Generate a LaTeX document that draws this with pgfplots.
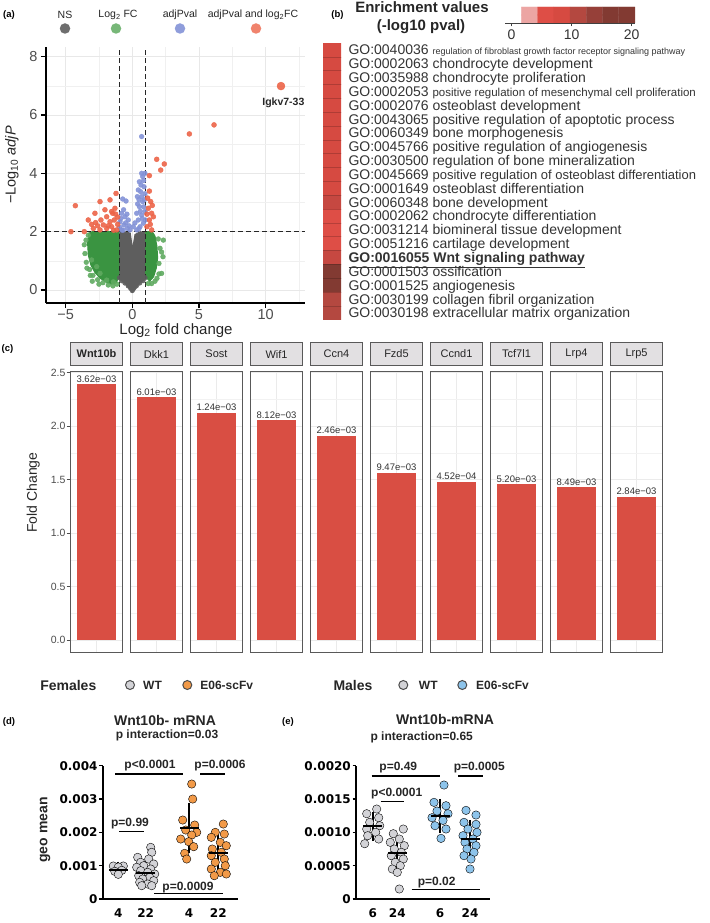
\documentclass[border=0pt]{standalone}
\usepackage{fontspec}
\setmainfont{Liberation Sans}
\newfontfamily\dejavu{DejaVu Sans}
\usepackage{pgfplots}
\usepackage{pgfplotstable}
\pgfplotsset{compat=1.18}

\definecolor{nsgray}{HTML}{5E5E5E}
\definecolor{fcgreen}{HTML}{3A9441}
\definecolor{fclight}{HTML}{5FAA60}
\definecolor{pblue}{HTML}{8392D7}
\definecolor{bothred}{HTML}{EC6448}
\definecolor{barred}{HTML}{D94E43}
\definecolor{framegray}{HTML}{595959}
\definecolor{stripgray}{HTML}{E2E0E2}
\definecolor{txtgray}{HTML}{4D4D4D}
\definecolor{wtgray}{HTML}{D3D3D7}
\definecolor{eorange}{HTML}{F29A48}
\definecolor{eblue}{HTML}{8DC4EB}

\newcommand{\fs}[1]{\fontsize{#1}{#1}\selectfont}

\pgfplotsset{
  colormap={enrich}{rgb255=(255,255,255) rgb255=(236,165,163) rgb255=(222,78,70)
    rgb255=(214,74,65) rgb255=(198,72,65) rgb255=(180,72,64) rgb255=(150,64,57)
    rgb255=(130,58,50) rgb255=(130,58,50)},
  facet/.style={anchor=south west, scale only axis, width=51.6pt, height=281pt,
    ymin=-0.119, ymax=2.507,
    ytick={0,0.5,1,1.5,2,2.5}, minor ytick={0.25,0.75,1.25,1.75,2.25},
    yticklabels={}, xticklabels={},
    grid=both, major grid style={black!8, line width=0.7pt}, minor grid style={black!5, line width=0.4pt},
    tick align=outside, major tick length=4pt, minor tick length=0pt,
    xtick style={draw=none}, ytick style={draw=none},
    axis line style={framegray, line width=0.9pt},
    title style={at={(0.5,1)}, anchor=south, draw=framegray, line width=0.9pt, fill=stripgray,
      minimum width=51.6pt, minimum height=22.4pt, inner sep=0pt, text=black!85, font=\fs{11}},
  },
  fcbar/.style={ybar, bar width=0.9, fill=barred, draw=none,
    nodes near coords, point meta=explicit symbolic,
    every node near coord/.append style={anchor=south, font=\fs{9.5}, text=black!80, inner sep=1.5pt}},
  prism/.style={anchor=south west, scale only axis, width=135pt, height=133.3pt,
    ymin=0, clip=false,
    axis lines*=left, axis line style={-, black, line width=1.6pt},
    xtick style={draw=none}, ytick style={black, line width=1.4pt},
    tick align=outside, major tick length=3.5pt,
    tick label style={font=\dejavu\bfseries\fs{12}},
    yticklabel style={inner sep=1.5pt},
    xticklabel style={yshift=-3pt},
    scaled y ticks=false},
  dots/.style={only marks, mark=*, mark size=4.2pt, mark options={line width=0.7pt, draw=black!65}},
  msd/.style={only marks, mark=-, mark size=9.5pt, mark options={line width=2pt, black},
    error bars/.cd, y dir=both, y explicit, error mark=-,
    error mark options={mark size=3.5pt, line width=2pt, black},
    error bar style={line width=2pt, black}},
  volc/.style={only marks, mark=*, mark size=2.4pt, color=#1,
    mark options={fill opacity=0.9, draw opacity=0.9}},
}

\pgfplotstableread{
pos fc lab
1 2.390 3.62e−03
2 2.268 6.01e−03
3 2.124 1.24e−03
4 2.056 8.12e−03
5 1.909 2.46e−03
6 1.564 9.47e−03
7 1.480 4.52e−04
8 1.455 5.20e−03
9 1.427 8.49e−03
10 1.339 2.84e−03
}\fcdata

\begin{document}
\begin{tikzpicture}[x=1pt,y=1pt]
\path[use as bounding box] (0,0) rectangle (709,-923);

% ===== (a) volcano plot
\node[font=\bfseries\fs{9.5}] at (9,-15) {(a)};
\node[font=\fs{10.5}, text=black!85] at (65,-15) {NS};
\node[font=\fs{10.5}, text=black!85] at (118,-15) {Log\textsubscript{2} FC};
\node[font=\fs{10.5}, text=black!85] at (180,-15) {adjPval};
\node[font=\fs{10.5}, text=black!85] at (253,-15) {adjPval and log\textsubscript{2}FC};
\node[circle, fill=nsgray!90, minimum size=10.5pt, inner sep=0pt] at (65,-28.5) {};
\node[circle, fill=fclight!85, minimum size=10.5pt, inner sep=0pt] at (116,-28.5) {};
\node[circle, fill=pblue!90, minimum size=10.5pt, inner sep=0pt] at (180,-28.5) {};
\node[circle, fill=bothred!80, minimum size=10.5pt, inner sep=0pt] at (256,-28.5) {};

\begin{axis}[at={(46pt,-303pt)}, anchor=south west, scale only axis,
  width=259pt, height=256pt,
  xmin=-6.47, xmax=12.95, ymin=-0.446, ymax=8.33,
  axis lines*=left, axis line style={-, black, line width=1.4pt},
  xtick={-5,0,5,10}, xticklabels={−5,0,5,10},
  ytick={0,2,4,6,8}, yticklabels={0,2,4,6,8},
  minor xtick={-2.5,2.5,7.5,12.5}, minor ytick={1,3,5,7},
  grid=both, major grid style={black!9, line width=0.9pt}, minor grid style={black!6, line width=0.5pt},
  tick align=outside, major tick length=5pt, minor tick length=0pt,
  tick style={black, line width=1.1pt},
  tick label style={font=\fs{14.5}, text=txtgray},
  xticklabel style={inner sep=1pt},
  clip=false]
% dense non-significant cloud
\addplot[fill=nsgray, draw=nsgray, line width=1pt] coordinates {
(0,-0.08) (0.3,0.1) (0.6,0.25) (0.9,0.35) (1.02,0.5) (1.02,1.95) (0.6,2.0) (0.2,1.9)
(0.02,1.4) (-0.15,1.95) (-0.6,2.0) (-1.02,1.95) (-1.02,0.5) (-0.9,0.35) (-0.6,0.25)
(-0.3,0.1) (0,-0.08)};
% dense fold-change clouds
\addplot[fill=fcgreen, draw=fcgreen, line width=1pt] coordinates {
(-1.0,0.45) (-1.2,0.25) (-1.6,0.2) (-2.0,0.28) (-2.4,0.4) (-2.8,0.6) (-3.1,0.85)
(-3.3,1.2) (-3.35,1.6) (-3.25,1.95) (-3.0,2.0) (-1.0,2.0) (-1.0,0.45)};
\addplot[fill=fcgreen, draw=fcgreen, line width=1pt] coordinates {
(1.0,0.45) (1.3,0.3) (1.6,0.45) (1.8,0.75) (1.9,1.1) (1.85,1.5) (1.7,1.85) (1.5,2.0)
(1.0,2.0) (1.0,0.45)};
\addplot[volc=nsgray] coordinates {
(0,-0.02) (0.12,0.06) (-0.12,0.06) (0.3,0.14) (-0.3,0.14) (0.55,0.24) (-0.55,0.24)
(0.8,0.32) (-0.8,0.32) (0.95,0.42) (-0.95,0.42)};
\addplot[volc=fclight] coordinates {
(-3.47,1.71) (-3.3,1.88) (-3.05,1.03) (-2.67,0.8) (-2.42,0.57) (-1.92,0.34) (-1.42,0.28)
(-3.55,1.25) (-3.45,0.95) (-3.2,0.7) (-2.95,0.5) (-2.6,0.35) (-2.2,0.25) (-1.8,0.17)
(-1.45,0.14) (-1.15,0.2) (-3.6,1.55) (-3.4,0.75) (-3.0,0.3) (-2.5,0.2) (-3.15,0.5)
(2.33,1.71) (2.08,1.43) (2.3,1.14) (2.2,0.57) (2.0,0.91) (2.0,0.55) (1.95,1.75)
(1.7,0.3) (1.45,0.22) (1.85,0.4) (2.2,1.3) (1.2,0.22)};
\addplot[volc=pblue] coordinates {
(-0.72,3.12) (-0.47,3.05) (-0.8,2.63) (-0.55,2.51) (-0.3,2.4) (-0.92,2.34) (-0.62,2.23)
(-0.37,2.11) (-0.8,2.06) (-0.17,2.06) (-0.95,2.15) (-0.65,2.75) (-0.5,2.3) (-0.85,2.45)
(-0.4,2.6) (-0.7,2.05) (-0.25,2.2)
(0.33,2.06) (0.58,2.17) (0.83,2.29) (0.45,2.4) (0.7,2.57) (0.95,2.69) (0.53,2.86)
(0.78,3.03) (0.38,3.2) (0.63,3.37) (0.88,3.54) (0.53,3.71) (0.78,3.89) (0.95,4.0)
(0.7,4.0) (0.45,3.43) (0.7,3.2) (0.9,3.09) (0.33,2.63) (0.98,2.4) (0.08,2.17) (0.5,2.1)
(0.75,2.45) (0.6,2.7) (0.85,2.85) (0.65,3.6) (0.85,3.75) (0.4,2.95) (0.95,3.3) (0.5,3.1)
(0.2,2.3) (0.7,5.26)};
\addplot[volc=bothred, mark size=2.5pt] coordinates {
(-4.6,2.0) (-4.27,2.89) (-3.6,2.0) (-3.3,2.4) (-2.42,3.03) (-1.67,3.09) (-1.22,3.31)
(-2.8,2.63) (-2.75,2.31) (-2.35,2.4) (-1.92,2.51) (-1.47,2.63) (-1.3,2.8) (-1.35,2.4)
(-1.55,2.17) (-1.92,2.11) (-2.42,2.06) (-2.92,2.11) (-1.17,2.06) (-1.67,2.34) (-2.17,2.23)
(-1.55,2.69) (-1.1,2.25) (-1.25,2.6) (-2.05,2.75) (-1.8,2.2) (-2.6,2.2) (-3.05,2.25)
(-1.4,2.05) (-1.1,2.5)
(1.28,3.92) (1.28,3.39) (1.38,3.03) (1.2,2.8) (1.45,2.63) (1.28,2.4) (1.1,2.17) (1.45,2.06)
(1.58,2.51) (1.15,3.15) (1.35,2.25) (1.1,2.6) (1.5,2.9) (1.83,4.48) (2.4,4.32) (2.13,4.11)
(4.28,5.35) (6.13,5.66)};
\addplot[volc=bothred, mark size=4pt] coordinates {(11.15,6.99)};
\draw[black!85, line width=0.8pt, dash pattern=on 5pt off 3pt] (axis cs:-1,-0.446) -- (axis cs:-1,8.33);
\draw[black!85, line width=0.8pt, dash pattern=on 5pt off 3pt] (axis cs:1,-0.446) -- (axis cs:1,8.33);
\draw[black!85, line width=0.8pt, dash pattern=on 5pt off 3pt] (axis cs:-6.47,2) -- (axis cs:12.95,2);
\node[font=\bfseries\fs{10.5}, text=black!85] at (axis cs:11.33,6.43) {Igkv7-33};
\end{axis}
\node[rotate=90, font=\fs{14.5}, text=black!85] at (12,-165) {−Log\textsubscript{10} \textit{adjP}};
\node[anchor=base, inner sep=0pt, font=\fs{15}, text=black!85] at (176,-334.5) {Log\textsubscript{2} fold change};

% ===== (b) enrichment heatmap
\node[font=\bfseries\fs{9.5}] at (337.5,-15) {(b)};
\node[font=\bfseries\fs{15}, text=black!85] at (422,-7.5) {Enrichment values};
\node[font=\bfseries\fs{15}, text=black!85] at (421,-27) {(-log10 pval)};

\begin{axis}[at={(505pt,-23pt)}, anchor=south west, scale only axis, width=130pt, height=16pt,
  xmin=-1.1, xmax=20.55, ymin=0, ymax=1,
  axis x line*=bottom, axis y line=none,
  axis line style={-, black!75, line width=0.8pt},
  xtick={0,10,20}, xticklabels={0,10,20}, tick align=center, major tick length=7pt,
  xtick style={black!75, line width=0.8pt},
  xticklabel style={font=\fs{14}, text=black!80},
  colormap name=enrich, colormap access=piecewise constant,
  point meta min=-1.1, point meta max=20.55]
\addplot[matrix plot*, mesh/cols=8, point meta=explicit] coordinates {
(0.253,0.25) [0.253] (2.959,0.25) [2.959] (5.665,0.25) [5.665] (8.371,0.25) [8.371]
(11.077,0.25) [11.077] (13.783,0.25) [13.783] (16.489,0.25) [16.489] (19.195,0.25) [19.195]
(0.253,0.75) [0.253] (2.959,0.75) [2.959] (5.665,0.75) [5.665] (8.371,0.75) [8.371]
(11.077,0.75) [11.077] (13.783,0.75) [13.783] (16.489,0.75) [16.489] (19.195,0.75) [19.195]};
\end{axis}

\begin{axis}[at={(323pt,-319.6pt)}, anchor=south west, scale only axis, width=18pt, height=276.6pt,
  xmin=-0.5, xmax=1.5, ymin=0.5, ymax=20.5, y dir=reverse,
  axis line style={draw=none}, xtick=\empty,
  ytick={1.5,2.5,...,19.5}, yticklabels={}, major tick length=0pt,
  ymajorgrids, grid style={black, opacity=0.18, line width=0.5pt}, axis on top,
  colormap name=enrich, colormap access=piecewise constant,
  point meta min=-1.1, point meta max=20.55]
\addplot[matrix plot*, mesh/cols=2, point meta=explicit] coordinates {
(0,1) [8] (1,1) [8]
(0,2) [8] (1,2) [8]
(0,3) [8] (1,3) [8]
(0,4) [8] (1,4) [8]
(0,5) [8] (1,5) [8]
(0,6) [8] (1,6) [8]
(0,7) [8] (1,7) [8]
(0,8) [8] (1,8) [8]
(0,9) [8] (1,9) [8]
(0,10) [8] (1,10) [8]
(0,11) [8] (1,11) [8]
(0,12) [10.5] (1,12) [10.5]
(0,13) [6] (1,13) [6]
(0,14) [6] (1,14) [6]
(0,15) [6] (1,15) [6]
(0,16) [10] (1,16) [10]
(0,17) [16.5] (1,17) [16.5]
(0,18) [16.5] (1,18) [16.5]
(0,19) [11] (1,19) [11]
(0,20) [13] (1,20) [13]};
\end{axis}

\begin{scope}[every node/.style={anchor=base west, text=black!80, font=\fs{14}, inner sep=0pt}]
\node at (348.3,-54.9)  {GO:0040036 {\fs{9}regulation of fibroblast growth factor receptor signaling pathway}};
\node at (348.3,-68.7)  {GO:0002063 chondrocyte development};
\node at (348.3,-82.6)  {GO:0035988 chondrocyte proliferation};
\node at (348.3,-96.4)  {GO:0002053 {\fs{11.5}positive regulation of mesenchymal cell proliferation}};
\node at (348.3,-110.2) {GO:0002076 osteoblast development};
\node at (348.3,-124.1) {GO:0043065 positive regulation of apoptotic process};
\node at (348.3,-137.9) {GO:0060349 bone morphogenesis};
\node at (348.3,-151.7) {GO:0045766 positive regulation of angiogenesis};
\node at (348.3,-165.6) {GO:0030500 regulation of bone mineralization};
\node at (348.3,-179.4) {GO:0045669 {\fs{13}positive regulation of osteoblast differentiation}};
\node at (348.3,-193.3) {GO:0001649 osteoblast differentiation};
\node at (348.3,-207.1) {GO:0060348 bone development};
\node at (348.3,-220.9) {GO:0002062 chondrocyte differentiation};
\node at (348.3,-234.8) {GO:0031214 biomineral tissue development};
\node at (348.3,-248.6) {GO:0051216 cartilage development};
\node at (348.3,-262.4) {\bfseries\underline{GO:0016055 Wnt signaling pathway}};
\node at (348.3,-276.3) {GO:0001503 ossification};
\node at (348.3,-290.1) {GO:0001525 angiogenesis};
\node at (348.3,-304.0) {GO:0030199 collagen fibril organization};
\node at (348.3,-317.8) {GO:0030198 extracellular matrix organization};
\end{scope}

% ===== (c) fold change facets
\node[font=\bfseries\fs{9.5}] at (7.5,-349.3) {(c)};
\node[rotate=90, font=\fs{14}, text=black!85] at (33.3,-492.5) {Fold Change};

\begin{axis}[facet, at={(70.7pt,-652.7pt)}, xmin=0.4, xmax=1.6, xtick={1},
  title={\bfseries Wnt10b},
  ytick style={draw=txtgray, line width=0.8pt}, ytick pos=left,
  yticklabels={0.0,0.5,1.0,1.5,2.0,2.5},
  yticklabel style={font=\fs{10.5}, text=txtgray, inner sep=1pt}]
\addplot[fcbar, restrict x to domain=0.5:1.5] table[x=pos, y=fc, meta=lab] {\fcdata};
\end{axis}

\foreach \i/\g in {2/Dkk1,3/Sost,4/Wif1,5/Ccn4,6/Fzd5,7/Ccnd1,8/Tcf7l1,9/Lrp4,10/Lrp5}{
  \pgfmathsetmacro\xl{10.7+60*\i}
  \pgfmathsetmacro\xa{\i-0.6}
  \pgfmathsetmacro\xb{\i+0.6}
  \pgfmathsetmacro\da{\i-0.5}
  \pgfmathsetmacro\db{\i+0.5}
  \begin{axis}[facet, at={(\xl pt,-652.7pt)}, xmin=\xa, xmax=\xb, xtick={\i}, title={\g}]
  \addplot[fcbar, restrict x to domain=\da:\db] table[x=pos, y=fc, meta=lab] {\fcdata};
  \end{axis}
}

% ===== legends for (d) and (e)
\node[font=\bfseries\fs{14}, text=black!85] at (68.3,-685) {Females};
\node[circle, draw=black!70, line width=1pt, fill=wtgray, minimum size=9pt, inner sep=0pt] at (130,-685) {};
\node[font=\bfseries\fs{12}, text=black!85] at (152.5,-685) {WT};
\node[circle, draw=black!70, line width=1pt, fill=eorange, minimum size=9pt, inner sep=0pt] at (187.3,-685) {};
\node[font=\bfseries\fs{12}, text=black!85] at (226.7,-685) {E06-scFv};
\node[font=\bfseries\fs{14}, text=black!85] at (353,-685) {Males};
\node[circle, draw=black!70, line width=1pt, fill=wtgray, minimum size=9pt, inner sep=0pt] at (403.3,-685) {};
\node[font=\bfseries\fs{12}, text=black!85] at (428.3,-685) {WT};
\node[circle, draw=black!70, line width=1pt, fill=eblue, minimum size=9pt, inner sep=0pt] at (462.3,-685) {};
\node[font=\bfseries\fs{12}, text=black!85] at (502.5,-685) {E06-scFv};

% ===== (d) females
\node[font=\bfseries\fs{9.5}] at (9,-722) {(d)};
\node[font=\bfseries\fs{14}, text=black!85] at (165,-720) {Wnt10b- mRNA};
\node[font=\bfseries\fs{12}, text=black!85] at (167,-735.5) {p interaction=0.03};
\begin{axis}[prism, at={(102.7pt,-899pt)}, width=135.6pt,
  xmin=0, xmax=135.6, ymax=0.004,
  xtick={15.6,43,86.3,115.6}, xticklabels={4,22,4,22},
  ytick={0,0.001,0.002,0.003,0.004}, yticklabels={0,0.001,0.002,0.003,0.004}]
\addplot[dots, mark options={fill=wtgray}] coordinates {
(10.6,0.00099) (20.6,0.00099) (15.6,0.00096) (12.1,0.00083) (19.1,0.00086) (15.6,0.00074)};
\addplot[dots, mark options={fill=wtgray}] coordinates {
(48,0.00155) (49,0.00140) (35,0.00125) (46,0.00120) (38,0.00110) (51,0.00105) (41,0.00100)
(34,0.00095) (48,0.00090) (38,0.00085) (45,0.00080) (52,0.00075) (36,0.00070) (47,0.00065)
(40,0.00060) (51,0.00055) (37,0.00050) (45,0.00045) (39,0.00040) (49,0.00040)};
\addplot[dots, mark options={fill=eorange}] coordinates {
(89,0.00345) (90,0.00300) (80,0.00237) (92,0.00222) (83,0.00207) (94,0.00200) (89,0.00192)
(78,0.00180) (86,0.00172) (91,0.00157) (82,0.00137) (84,0.00120)};
\addplot[dots, mark options={fill=eorange}] coordinates {
(120.6,0.00225) (112.6,0.00200) (121.6,0.00195) (108.6,0.00185) (117.6,0.00170)
(123.6,0.00160) (109.6,0.00150) (118.6,0.00140) (108.6,0.00130) (121.6,0.00120)
(112.6,0.00110) (122.6,0.00100) (108.6,0.00090) (117.6,0.00080) (111.6,0.00070)
(123.6,0.00075)};
\addplot[msd] coordinates {
(15.6,0.00087) += (0,0.00015) -= (0,0.00012)
(43,0.00077) += (0,0.0003) -= (0,0.0003)
(86.3,0.00212) += (0,0.00065) -= (0,0.00063)
(115.6,0.00139) += (0,0.0005) -= (0,0.0005)};
\begin{scope}[line width=1.1pt]
\draw (axis cs:12.3,0.00375) -- (axis cs:80.6,0.00375);
\draw (axis cs:97.3,0.00375) -- (axis cs:122.3,0.00375);
\draw (axis cs:16.6,0.00202) -- (axis cs:41.3,0.00202);
\draw (axis cs:51.3,0.00017) -- (axis cs:120,0.00017);
\end{scope}
\begin{scope}[every node/.style={font=\bfseries\fs{12}, text=black!85}]
\node at (axis cs:47.3,0.00399) {p<0.0001};
\node at (axis cs:117.3,0.00399) {p=0.0006};
\node at (axis cs:27.3,0.00227) {p=0.99};
\node at (axis cs:85.3,0.00035) {p=0.0009};
\end{scope}
\end{axis}
\node[rotate=90, font=\bfseries\fs{14}, text=black!85] at (45,-830) {geo mean};

% ===== (e) males
\node[font=\bfseries\fs{9.5}] at (288,-722) {(e)};
\node[font=\bfseries\fs{14}, text=black!85] at (445,-719.3) {Wnt10b-mRNA};
\node[font=\bfseries\fs{12}, text=black!85] at (421.7,-737.3) {p interaction=0.65};
\begin{axis}[prism, at={(356pt,-899pt)}, width=134pt,
  xmin=0, xmax=134, ymax=0.002,
  xtick={16.7,41.3,84,114}, xticklabels={6,24,6,24},
  ytick={0,0.0005,0.001,0.0015,0.002}, yticklabels={0,0.0005,0.0010,0.0015,0.0020}]
\addplot[dots, mark options={fill=wtgray}] coordinates {
(20.7,0.00135) (10.7,0.00128) (22.7,0.00122) (13.7,0.00115) (23.7,0.00110) (10.7,0.00105)
(19.7,0.00100) (11.7,0.00095) (22.7,0.00090) (8.7,0.00083)};
\addplot[dots, mark options={fill=wtgray}] coordinates {
(47.3,0.00105) (37.3,0.00098) (43.3,0.00090) (34.3,0.00085) (48.3,0.00080) (38.3,0.00075)
(45.3,0.00070) (35.3,0.00065) (47.3,0.00060) (39.3,0.00055) (44.3,0.00050) (36.3,0.00045)
(41.3,0.00040) (43.3,0.00015)};
\addplot[dots, mark options={fill=eblue}] coordinates {
(88,0.00171) (78,0.00145) (90,0.00140) (81,0.00132) (92,0.00128) (76,0.00122) (87,0.00118)
(79,0.00110) (90,0.00105) (85,0.00091)};
\addplot[dots, mark options={fill=eblue}] coordinates {
(110,0.00133) (120,0.00126) (108,0.00115) (120,0.00112) (112,0.00105) (121,0.00100)
(107,0.00095) (117,0.00090) (109,0.00085) (120,0.00080) (111,0.00075) (118,0.00070)
(108,0.00065) (115,0.00060) (114,0.00045)};
\addplot[msd] coordinates {
(16.7,0.0011) += (0,0.00016) -= (0,0.00018)
(41.3,0.000695) += (0,0.0002) -= (0,0.0002)
(84,0.00125) += (0,0.0002) -= (0,0.00021)
(114,0.0009) += (0,0.00023) -= (0,0.00022)};
\begin{scope}[line width=1.1pt]
\draw (axis cs:15.7,0.001845) -- (axis cs:84,0.001845);
\draw (axis cs:102.3,0.001845) -- (axis cs:126.7,0.001845);
\draw (axis cs:24.7,0.00146) -- (axis cs:48.3,0.00146);
\draw (axis cs:55.7,0.000146) -- (axis cs:124,0.000146);
\end{scope}
\begin{scope}[every node/.style={font=\bfseries\fs{12}, text=black!85}]
\node at (axis cs:42.3,0.001976) {p=0.49};
\node at (axis cs:123.3,0.001976) {p=0.0005};
\node at (axis cs:40.7,0.001586) {p<0.0001};
\node at (axis cs:80.7,0.000245) {p=0.02};
\end{scope}
\end{axis}

\end{tikzpicture}
\end{document}
